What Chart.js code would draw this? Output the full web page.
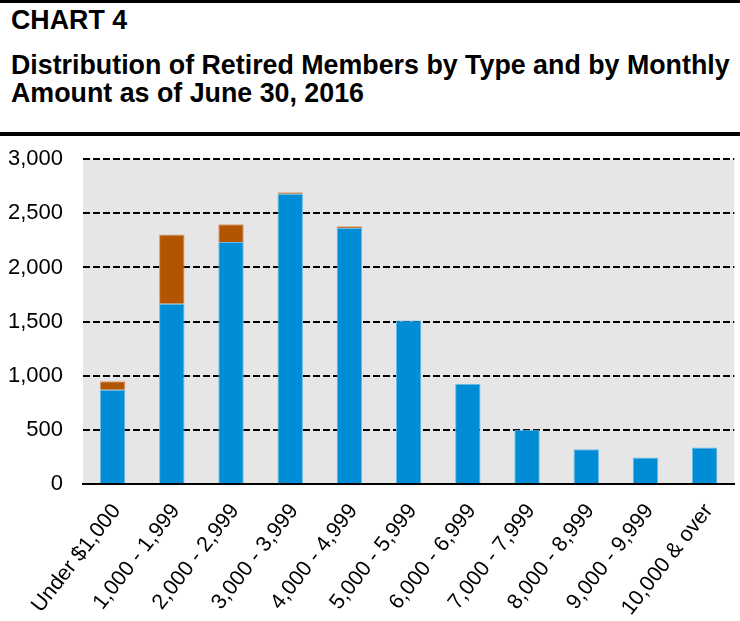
<!DOCTYPE html>
<html>
<head>
<meta charset="utf-8">
<script src="https://cdn.jsdelivr.net/npm/chart.js@4/dist/chart.umd.min.js"></script>
<style>
  html, body { margin: 0; padding: 0; background: #fff; }
  body { width: 740px; height: 621px; position: relative; overflow: hidden; font-family: 'Liberation Sans', Arial, sans-serif; color: #000; }
  .rule { position: absolute; left: 0; width: 740px; background: #000; }
  .head { position: absolute; left: 11px; font-weight: bold; font-size: 26.8px; white-space: nowrap; }
  #chart-wrap { position: absolute; left: 0; top: 126px; width: 740px; height: 495px; }
</style>
</head>
<body>
<div class="rule" style="top:0; height:3px;"></div>
<div class="head" style="top:7px; line-height:26px;">CHART 4</div>
<div class="head" style="top:51px; line-height:28px;">Distribution of Retired Members by Type and by Monthly<br>Amount as of June 30, 2016</div>
<div class="rule" style="top:132px; height:4px;"></div>
<div id="chart-wrap"><canvas id="members-chart" width="740" height="495"></canvas></div>

<script>
// data
const categories = ['Under $1,000', '1,000 - 1,999', '2,000 - 2,999', '3,000 - 3,999', '4,000 - 4,999',
  '5,000 - 5,999', '6,000 - 6,999', '7,000 - 7,999', '8,000 - 8,999', '9,000 - 9,999', '10,000 & over'];
const serviceMembers = [870, 1665, 2235, 2680, 2365, 1510, 925, 500, 320, 245, 338];
const disabilityMembers = [80, 640, 165, 15, 15, 0, 0, 0, 0, 0, 0];
const yTicks = [0, 500, 1000, 1500, 2000, 2500, 3000];

Chart.defaults.font.family = "'Liberation Sans', Arial, sans-serif";
Chart.defaults.color = '#000';

// gray plot background
const plotBackground = {
  id: 'plotBackground',
  beforeDraw(chart) {
    const { ctx, chartArea } = chart;
    ctx.save();
    ctx.fillStyle = '#E6E6E6';
    ctx.fillRect(chartArea.left, chartArea.top, chartArea.right - chartArea.left, chartArea.bottom - chartArea.top);
    ctx.restore();
  }
};

const ctx = document.getElementById('members-chart').getContext('2d');
const chart = new Chart(ctx, {
  type: 'bar',
  data: {
    labels: categories,
    datasets: [
      {
        label: 'Service',
        data: serviceMembers,
        backgroundColor: '#008DD5',
        borderColor: '#6BBDE8',
        borderWidth: 1,
        barPercentage: 0.43,
        categoryPercentage: 1
      },
      {
        label: 'Disability',
        data: disabilityMembers,
        backgroundColor: '#B35500',
        borderColor: '#D49A6A',
        borderWidth: 1,
        barPercentage: 0.43,
        categoryPercentage: 1
      }
    ]
  },
  options: {
    responsive: false,
    animation: false,
    devicePixelRatio: 1,
    layout: { padding: { top: 4, left: 0, right: 0, bottom: 0 } },
    plugins: {
      legend: { display: false },
      tooltip: { enabled: false }
    },
    scales: {
      x: {
        stacked: true,
        z: 1,
        grid: { display: false, drawTicks: false },
        border: { display: true, color: '#000', width: 2 },
        ticks: {
          font: { size: 21.5 },
          minRotation: 52,
          maxRotation: 52,
          autoSkip: false,
          padding: 15,
          labelOffset: 4
        },
        afterFit: (scale) => { scale.height = 137; }
      },
      y: {
        stacked: true,
        min: 0,
        max: 3000,
        afterBuildTicks: (scale) => { scale.ticks = yTicks.map(v => ({ value: v })); },
        grid: {
          color: (c) => c.tick && c.tick.value === 0 ? 'rgba(0,0,0,0)' : '#000',
          lineWidth: 2,
          drawTicks: false
        },
        border: { display: false, dash: [7, 3] },
        ticks: {
          font: { size: 22 },
          padding: 20
        },
        afterFit: (scale) => { scale.width = 83; }
      }
    }
  },
  plugins: [plotBackground]
});
</script>
</body>
</html>
